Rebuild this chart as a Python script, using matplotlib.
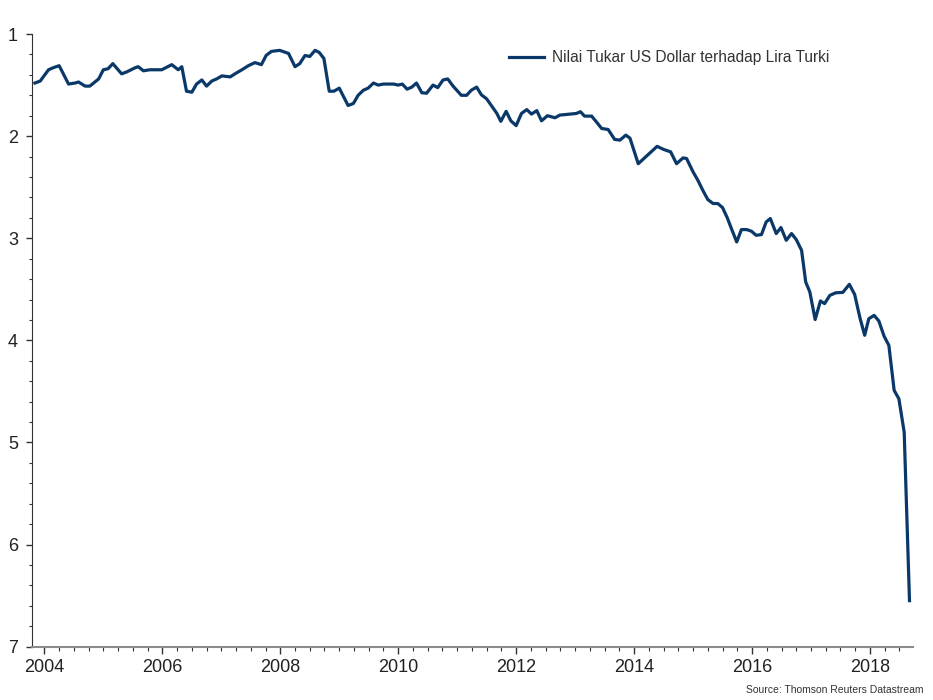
import matplotlib.pyplot as plt
from matplotlib.ticker import MultipleLocator

plt.rcParams['font.family'] = ['Liberation Sans', 'DejaVu Sans']

# USD/TRY exchange rate (decimal year, rate)
years = [2003.84, 2003.93, 2004.07, 2004.15, 2004.25, 2004.41, 2004.52, 2004.58, 2004.69, 2004.77,
         2004.92, 2005.00, 2005.08, 2005.16, 2005.31, 2005.40, 2005.54, 2005.59, 2005.68, 2005.79,
         2005.91, 2005.99, 2006.16, 2006.27, 2006.33, 2006.41, 2006.50, 2006.58, 2006.67, 2006.75,
         2006.84, 2006.92, 2007.01, 2007.15, 2007.26, 2007.35, 2007.46, 2007.57, 2007.68, 2007.76,
         2007.85, 2007.99, 2008.14, 2008.25, 2008.33, 2008.42, 2008.50, 2008.59, 2008.66, 2008.74,
         2008.83, 2008.91, 2009.00, 2009.07, 2009.15, 2009.24, 2009.32, 2009.41, 2009.49, 2009.58,
         2009.66, 2009.75, 2009.92, 2010.00, 2010.07, 2010.15, 2010.23, 2010.31, 2010.40, 2010.48,
         2010.59, 2010.67, 2010.76, 2010.84, 2010.93, 2011.00, 2011.07, 2011.16, 2011.24, 2011.33,
         2011.41, 2011.50, 2011.58, 2011.67, 2011.74, 2011.83, 2011.91, 2012.00, 2012.09, 2012.18,
         2012.26, 2012.35, 2012.43, 2012.53, 2012.66, 2012.74, 2012.91, 2013.02, 2013.09, 2013.16,
         2013.28, 2013.36, 2013.45, 2013.56, 2013.67, 2013.76, 2013.86, 2013.93, 2014.07, 2014.21,
         2014.39, 2014.50, 2014.62, 2014.72, 2014.83, 2014.89, 2015.00, 2015.08, 2015.17, 2015.25,
         2015.34, 2015.42, 2015.50, 2015.58, 2015.65, 2015.74, 2015.82, 2015.91, 2015.99, 2016.07,
         2016.16, 2016.24, 2016.31, 2016.41, 2016.49, 2016.58, 2016.67, 2016.75, 2016.84, 2016.91,
         2016.98, 2017.07, 2017.16, 2017.23, 2017.32, 2017.42, 2017.54, 2017.65, 2017.74, 2017.83,
         2017.91, 2017.98, 2018.07, 2018.15, 2018.24, 2018.32, 2018.41, 2018.49, 2018.58, 2018.67]
rate = [1.48, 1.46, 1.35, 1.33, 1.31, 1.49, 1.48, 1.47, 1.51, 1.51,
        1.44, 1.35, 1.34, 1.29, 1.39, 1.37, 1.33, 1.32, 1.36, 1.35,
        1.35, 1.35, 1.30, 1.35, 1.32, 1.56, 1.57, 1.49, 1.45, 1.51,
        1.46, 1.44, 1.41, 1.42, 1.38, 1.35, 1.31, 1.28, 1.30, 1.21,
        1.17, 1.16, 1.19, 1.32, 1.29, 1.21, 1.22, 1.16, 1.18, 1.24,
        1.56, 1.56, 1.53, 1.61, 1.70, 1.68, 1.60, 1.55, 1.53, 1.48,
        1.50, 1.49, 1.49, 1.50, 1.49, 1.54, 1.52, 1.48, 1.575, 1.58,
        1.50, 1.525, 1.45, 1.44, 1.51, 1.555, 1.60, 1.60, 1.55, 1.52,
        1.595, 1.635, 1.70, 1.775, 1.855, 1.757, 1.85, 1.897, 1.778, 1.74,
        1.784, 1.75, 1.85, 1.80, 1.82, 1.794, 1.784, 1.778, 1.761, 1.804,
        1.804, 1.86, 1.925, 1.935, 2.032, 2.039, 1.99, 2.02, 2.27, 2.196,
        2.10, 2.13, 2.154, 2.27, 2.213, 2.219, 2.35, 2.431, 2.536, 2.621,
        2.66, 2.66, 2.70, 2.80, 2.905, 3.036, 2.915, 2.915, 2.931, 2.971,
        2.964, 2.84, 2.807, 2.954, 2.895, 3.02, 2.954, 3.013, 3.118, 3.428,
        3.526, 3.796, 3.614, 3.64, 3.559, 3.534, 3.53, 3.451, 3.55, 3.78,
        3.95, 3.788, 3.755, 3.81, 3.96, 4.049, 4.49, 4.572, 4.899, 6.549]

series_label = 'Nilai Tukar US Dollar terhadap Lira Turki'
year_ticks = [2004, 2006, 2008, 2010, 2012, 2014, 2016, 2018]

fig = plt.figure(figsize=(9.33, 7.0), dpi=100)
ax = fig.add_axes([0.0343, 0.0761, 0.9443, 0.8753])

ax.plot(years, rate, color='#0a3868', lw=2.3, label=series_label)

ax.set_xlim(2003.79, 2018.73)
ax.set_ylim(7, 1)
ax.set_xticks(year_ticks)
ax.set_xticklabels([str(y) for y in year_ticks])
ax.xaxis.set_minor_locator(MultipleLocator(0.25))
ax.yaxis.set_major_locator(MultipleLocator(1))
ax.yaxis.set_minor_locator(MultipleLocator(0.2))

for s in ['top', 'right']:
    ax.spines[s].set_visible(False)
ax.spines['left'].set_color('#333333')
ax.spines['bottom'].set_color('#8c8c8c')
ax.spines['bottom'].set_linewidth(1.5)

ax.tick_params(axis='y', which='major', length=4, width=1, color='#333333',
               labelsize=13, labelcolor='#222222', pad=6)
ax.tick_params(axis='y', which='minor', length=2.5, width=0.8, color='#333333')
ax.tick_params(axis='x', which='major', length=5, width=1, color='#333333',
               labelsize=13, labelcolor='#222222', pad=4)
ax.tick_params(axis='x', which='minor', length=3, width=0.8, color='#333333')

leg = ax.legend(loc='upper left', bbox_to_anchor=(0.525, 0.996), frameon=False,
                fontsize=11.2, handlelength=2.3, handletextpad=0.5)
for t in leg.get_texts():
    t.set_color('#333333')

fig.text(0.99, 0.007, 'Source: Thomson Reuters Datastream', ha='right', va='bottom',
         fontsize=7.5, color='#333333')

fig.savefig('out.png', dpi=100)
